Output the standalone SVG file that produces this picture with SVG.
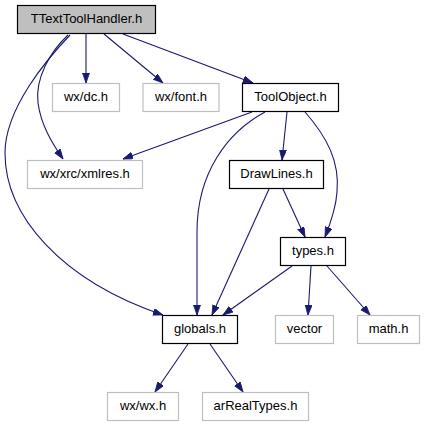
<svg xmlns="http://www.w3.org/2000/svg" width="425" height="427" viewBox="0 0 425 427">
<style>
.node rect{stroke-width:1.2}
.main rect{fill:#bfbfbf;stroke:#000}
.local rect{fill:#fff;stroke:#000}
.ext rect{fill:#fff;stroke:#bfbfbf}
text{font-family:"Liberation Sans",Arial,sans-serif;font-size:13px;fill:#000;text-anchor:middle}
#edges path{fill:none;stroke:#191970;stroke-width:1.1;marker-end:url(#arr)}
</style>
<defs>
<marker id="arr" markerUnits="userSpaceOnUse" markerWidth="11" markerHeight="8" refX="10" refY="3.5" orient="auto">
<path d="M0,0 L10,3.5 L0,7 z" fill="#191970" stroke="#191970" stroke-width="0.8"/>
</marker>
</defs>
<rect width="425" height="427" fill="#fff"/>
<g id="edges">
<path d="M86,34 L86,83"/>
<path d="M104,34 L163,83"/>
<path d="M123,34 L253,83"/>
<path d="M68,35 C50,52 35,78 38,103 C41,125 52,143 63,159"/>
<path d="M70,35 C48,58 5,108 5,153 C5,215 60,280 163,315"/>
<path d="M252,112 L123,159"/>
<path d="M265,112 C228,132 197,172 197,232 L197,315"/>
<path d="M287,112 L282,160"/>
<path d="M305,112 C327,137 340,162 337,192 C336,208 331,222 325,237"/>
<path d="M269,189 L212,315"/>
<path d="M283,189 L305,237"/>
<path d="M292,266 L223,315"/>
<path d="M311,266 L308,315"/>
<path d="M327,266 L370,315"/>
<path d="M188,344 L155,392"/>
<path d="M210,344 L243,392"/>
</g>
<g id="TTextToolHandler" class="node main"><rect x="17.5" y="5.5" width="138" height="28"/><text x="86.5" y="23.2">TTextToolHandler.h</text></g>
<g id="wx_dc" class="node ext"><rect x="52.5" y="83.5" width="67" height="28"/><text x="86" y="101.2">wx/dc.h</text></g>
<g id="wx_font" class="node ext"><rect x="143" y="83.5" width="76" height="28"/><text x="181" y="101.2">wx/font.h</text></g>
<g id="ToolObject" class="node local"><rect x="242.5" y="83.5" width="96" height="28"/><text x="290.5" y="101.2">ToolObject.h</text></g>
<g id="wx_xrc_xmlres" class="node ext"><rect x="27.5" y="160.5" width="115" height="28"/><text x="85" y="178.2">wx/xrc/xmlres.h</text></g>
<g id="DrawLines" class="node local"><rect x="229.5" y="160.5" width="94" height="28"/><text x="276.5" y="178.2">DrawLines.h</text></g>
<g id="types" class="node local"><rect x="280.5" y="237.5" width="65" height="28"/><text x="313" y="255.2">types.h</text></g>
<g id="globals" class="node local"><rect x="162.5" y="315.5" width="75" height="28"/><text x="200" y="333.2">globals.h</text></g>
<g id="vector" class="node ext"><rect x="275.5" y="315.5" width="58" height="28"/><text x="304.5" y="333.2">vector</text></g>
<g id="math" class="node ext"><rect x="357.5" y="315.5" width="62" height="28"/><text x="388.5" y="333.2">math.h</text></g>
<g id="wx_wx" class="node ext"><rect x="107.5" y="392.5" width="71" height="28"/><text x="143" y="410.2">wx/wx.h</text></g>
<g id="arRealTypes" class="node ext"><rect x="202.5" y="392.5" width="106" height="28"/><text x="255.5" y="410.2">arRealTypes.h</text></g>
</svg>
